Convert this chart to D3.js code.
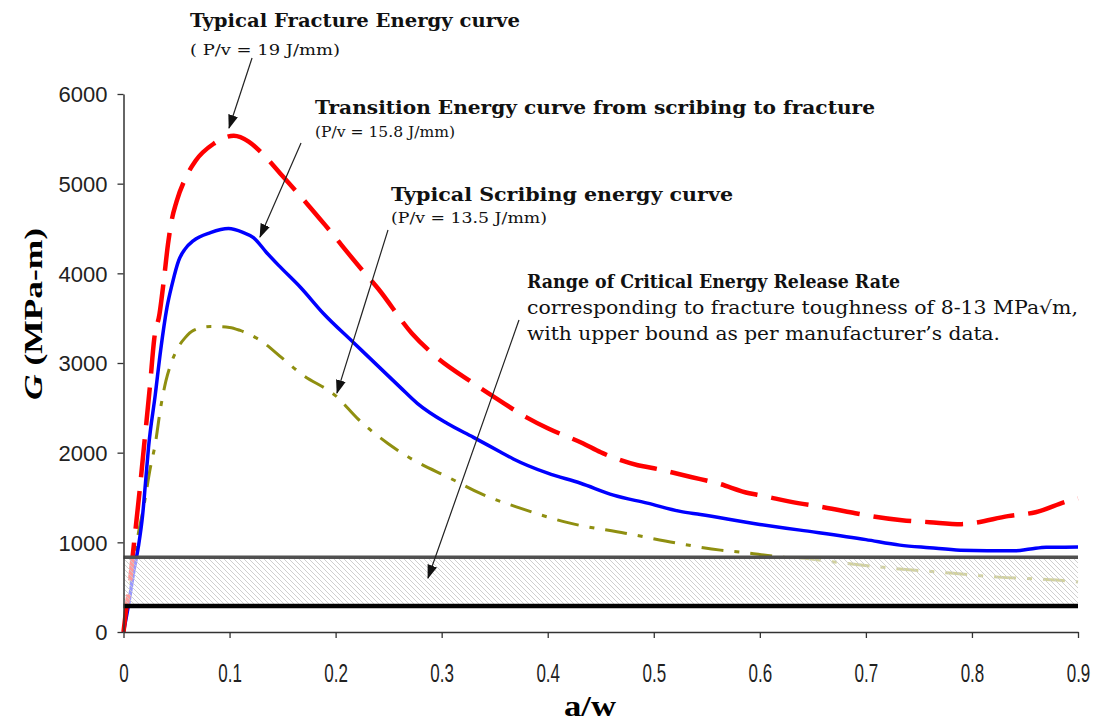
<!DOCTYPE html>
<html><head><meta charset="utf-8">
<script src="https://cdn.jsdelivr.net/npm/d3@7"></script>
<style>body{margin:0;background:#fff}svg{display:block}</style>
</head><body><svg id="c" width="1096" height="721"></svg>
<script>
// ---- data ----
const fractureX = [0,0.002,0.005,0.01,0.015,0.02,0.025,0.029,0.034,0.038,0.042,0.045,0.05,0.058,0.068,0.085,0.104,0.118,0.131,0.148,0.173,0.19,0.223,0.24,0.272,0.29,0.33,0.35,0.38,0.4,0.433,0.45,0.485,0.5,0.536,0.56,0.59,0.6,0.636,0.66,0.69,0.7,0.734,0.76,0.79,0.8,0.834,0.86,0.89,0.9];
const fractureG = [0,200,450,1000,1550,2150,2750,3270,3550,3920,4330,4565,4800,5050,5256,5445,5535,5470,5334,5111,4777,4540,4065,3831,3330,3118,2773,2617,2394,2272,2105,2004,1860,1826,1726,1659,1548,1525,1437,1392,1325,1303,1247,1225,1203,1214,1292,1336,1459,1490];
const transitionX = [0,0.005,0.0094,0.014,0.018,0.0207,0.0236,0.03,0.035,0.041,0.046,0.052,0.058,0.066,0.082,0.099,0.113,0.1225,0.135,0.147,0.167,0.1885,0.2168,0.261,0.277,0.305,0.33,0.355,0.3676,0.4,0.431,0.462,0.494,0.525,0.544,0.6,0.638,0.7,0.732,0.76,0.789,0.84,0.855,0.87,0.9];
const transitionG = [0,320,657,950,1300,1660,2060,2650,3140,3620,3886,4142,4270,4365,4454,4499,4454,4399,4230,4080,3842,3552,3229,2728,2550,2327,2171,2010,1930,1771,1659,1526,1437,1345,1310,1200,1136,1030,969,940,913,905,925,945,947];
const scribingX = [0,0.0047,0.01,0.014,0.019,0.0254,0.03,0.035,0.04,0.045,0.051,0.058,0.066,0.082,0.1,0.11,0.129,0.15,0.167,0.2017,0.2205,0.249,0.2705,0.308,0.336,0.374,0.421,0.473,0.522,0.563,0.582,0.622,0.638,0.679,0.723,0.78,0.825,0.88,0.9];
const scribingG = [0,356,800,1100,1392,1837,2100,2500,2800,3000,3163,3280,3363,3408,3397,3363,3252,3051,2884,2617,2383,2105,1938,1715,1548,1381,1214,1102,991,913,891,835,824,768,713,657,612,579,557];
const xTicks = [0,0.1,0.2,0.3,0.4,0.5,0.6,0.7,0.8,0.9];
const yTicks = [0,1000,2000,3000,4000,5000,6000];
const bandLow = 290, bandHigh = 835;

// ---- layout ----
const svg = d3.select("#c");
const x = d3.scaleLinear().domain([0,0.9]).range([123.5,1078]);
const y = d3.scaleLinear().domain([0,6000]).range([632,94]);

const defs = svg.append("defs");
const pat = defs.append("pattern").attr("id","hatch").attr("patternUnits","userSpaceOnUse")
  .attr("width",5).attr("height",5);
pat.append("rect").attr("width",5).attr("height",5).attr("fill","rgba(255,255,255,0.6)");
pat.append("path").attr("d","M-1,-1 L6,6 M-1,4 L1,6 M4,-1 L6,1").attr("stroke","#cacaca").attr("stroke-width",0.9);
defs.append("marker").attr("id","ah").attr("markerUnits","userSpaceOnUse")
  .attr("markerWidth",14).attr("markerHeight",10).attr("refX",13).attr("refY",5).attr("orient","auto")
  .append("path").attr("d","M0,0 L14,5 L0,10 Z").attr("fill","#111");

// ---- curves ----
const line = d3.line().x(d=>x(d[0])).y(d=>y(d[1])).curve(d3.curveMonotoneX);
const series = [
  {xs:scribingX, gs:scribingG, color:"#8f8f10", w:3, dash:"22,11,5,11"},
  {xs:transitionX, gs:transitionG, color:"#0000ff", w:3.5, dash:null},
  {xs:fractureX, gs:fractureG, color:"#ff0000", w:4.5, dash:"38,14"}
];
series.forEach(s=>{
  svg.append("path").datum(s.xs.map((v,i)=>[v,s.gs[i]]))
    .attr("d",line).attr("fill","none").attr("stroke",s.color)
    .attr("stroke-width",s.w).attr("stroke-dasharray",s.dash).attr("stroke-linejoin","round");
});

// ---- band ----
svg.append("rect").attr("x",x(0)).attr("y",y(bandHigh)).attr("width",x(0.9)-x(0))
  .attr("height",y(bandLow)-y(bandHigh)).attr("fill","url(#hatch)");
svg.append("line").attr("x1",x(0)).attr("x2",x(0.9)).attr("y1",y(bandHigh)).attr("y2",y(bandHigh))
  .attr("stroke","#505050").attr("stroke-width",3.5);
svg.append("line").attr("x1",x(0)).attr("x2",x(0.9)).attr("y1",y(bandLow)).attr("y2",y(bandLow))
  .attr("stroke","#000").attr("stroke-width",4.5);

// ---- axes ----
const gx = svg.append("g").attr("transform",`translate(0,${y(0)})`)
  .call(d3.axisBottom(x).tickValues(xTicks).tickSize(6).tickSizeOuter(0)
    .tickFormat(d=> d===0 ? "0" : d3.format(".1f")(d)));
gx.select(".domain").attr("stroke","#333").attr("stroke-width",1.5);
gx.selectAll(".tick line").attr("stroke","#333").attr("stroke-width",1.3);
gx.selectAll(".tick text").attr("y",32).attr("dy","0.71em")
  .attr("font-family","Liberation Sans, Arial, sans-serif").attr("font-size",25)
  .attr("fill","#222").attr("transform","scale(0.68,1)");

const gy = svg.append("g").attr("transform",`translate(${x(0)},0)`)
  .call(d3.axisLeft(y).tickValues(yTicks).tickSize(6).tickSizeOuter(0).tickFormat(d3.format("d")));
gy.select(".domain").attr("stroke","#333").attr("stroke-width",1.5);
gy.selectAll(".tick line").attr("stroke","#333").attr("stroke-width",1.3);
gy.selectAll(".tick text").attr("x",-16).attr("dy","0.36em")
  .attr("font-family","Liberation Sans, Arial, sans-serif").attr("font-size",22)
  .attr("fill","#222");

// axis titles
svg.append("text").attr("x",590).attr("y",716).attr("text-anchor","middle")
  .attr("font-family","Liberation Serif, Times New Roman, serif").attr("font-weight","bold")
  .attr("font-size",30).attr("textLength",52).attr("lengthAdjust","spacingAndGlyphs").text("a/w");
const yt = svg.append("text").attr("transform","translate(42,314) rotate(-90)").attr("text-anchor","middle")
  .attr("font-family","Liberation Serif, Times New Roman, serif").attr("font-weight","bold")
  .attr("font-size",26).attr("textLength",172).attr("lengthAdjust","spacingAndGlyphs");
yt.append("tspan").attr("font-style","italic").text("G");
yt.append("tspan").text(" (MPa-m)");

// ---- annotations ----
const serif = "DejaVu Serif, Liberation Serif, serif";
const notes = [
  {t:"Typical Fracture Energy curve", x:190, y:27, s:18, b:true, w:330},
  {t:"( P/v = 19 J/mm)", x:190, y:55, s:14.5, b:false, w:150},
  {t:"Transition Energy curve from scribing to fracture", x:315, y:114, s:18, b:true, w:560},
  {t:"(P/v = 15.8 J/mm)", x:315, y:137, s:14.5, b:false, w:140},
  {t:"Typical Scribing energy curve", x:391, y:201, s:18, b:true, w:342},
  {t:"(P/v = 13.5 J/mm)", x:391, y:223, s:14.5, b:false, w:156},
  {t:"Range of Critical Energy Release Rate", x:527, y:288, s:18, b:true, w:373},
  {t:"corresponding to fracture toughness of 8-13 MPa\u221Am,", x:527, y:314, s:18, b:false, w:551},
  {t:"with upper bound as per manufacturer\u2019s data.", x:527, y:340, s:18, b:false, w:473}
];
notes.forEach(n=>{
  svg.append("text").attr("x",n.x).attr("y",n.y).attr("font-family",serif)
    .attr("font-size",n.s).attr("font-weight",n.b?"bold":"normal").attr("fill","#111")
    .attr("textLength",n.w).attr("lengthAdjust","spacingAndGlyphs").text(n.t);
});

const arrows = [
  {from:[0.1212,6401], to:[0.0995,5621]},
  {from:[0.1674,5453], to:[0.1287,4405]},
  {from:[0.2494,4483], to:[0.2013,2665]},
  {from:[0.3729,3479], to:[0.2871,602]}
];
arrows.forEach(a=>{
  svg.append("line").attr("x1",x(a.from[0])).attr("y1",y(a.from[1]))
    .attr("x2",x(a.to[0])).attr("y2",y(a.to[1]))
    .attr("stroke","#222").attr("stroke-width",1.2).attr("marker-end","url(#ah)");
});
</script></body></html>
